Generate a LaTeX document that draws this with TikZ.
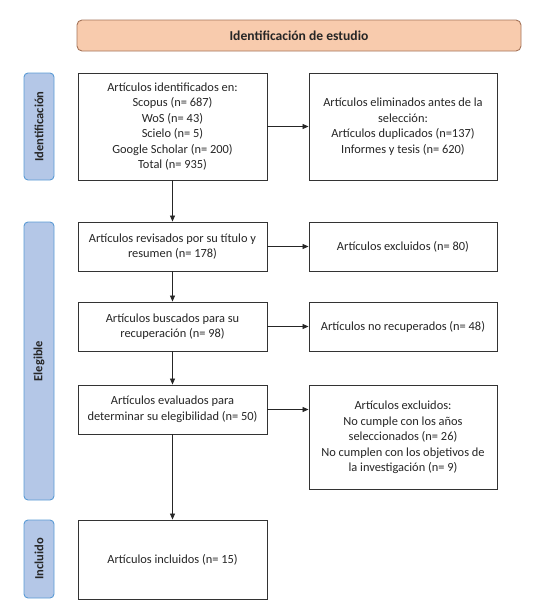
\documentclass[tikz,border=0pt]{standalone}
\usepackage{fontspec}
\setmainfont{Carlito}
\usetikzlibrary{arrows.meta}
\definecolor{peach}{HTML}{F8CBAD}
\definecolor{peachline}{HTML}{A5745A}
\definecolor{sideblue}{HTML}{B4C7E7}
\definecolor{sideline}{HTML}{5B9BD5}
\definecolor{txt}{HTML}{262626}
\begin{document}
\begin{tikzpicture}[x=1pt,y=-1pt,
  box/.style={draw=black!80, line width=0.9pt, fill=white, align=center, inner sep=2pt,
    font=\fontsize{12.4}{15.5}\selectfont, text=txt},
  lbox/.style={box, minimum width=189pt},
  rbox/.style={box, minimum width=188pt},
  side/.style={draw=sideline, line width=0.9pt, fill=sideblue, rounded corners=4pt,
    minimum width=30pt},
  sidetext/.style={rotate=90, font=\fontsize{12.5}{14}\selectfont\bfseries, text=txt},
  title/.style={draw=peachline, line width=0.9pt, fill=peach, rounded corners=5pt,
    minimum width=444pt, minimum height=31pt, font=\fontsize{13.6}{15}\selectfont\bfseries, text=txt},
  arr/.style={-{Triangle[length=6pt,width=5pt]}, line width=0.8pt, draw=black!85}]
\useasboundingbox (0,0) rectangle (547,606);

\node[title] (t) at (299,35.5) {Identificación de estudio};

\node[side, minimum height=107pt] (s1) at (39,126.5) {};
\node[sidetext] (s1t) at (s1.center) {Identificación};
\node[side, minimum height=278pt] (s2) at (39,361) {};
\node[sidetext] (s2t) at (s2.center) {Elegible};
\node[side, minimum height=78pt] (s3) at (39,559) {};
\node[sidetext] (s3t) at (s3.center) {Incluido};

\node[lbox, minimum height=107pt] (a1) at (172.5,126.5) {Artículos identificados en:\\Scopus (n= 687)\\WoS (n= 43)\\Scielo (n= 5)\\Google Scholar (n= 200)\\Total (n= 935)};
\node[lbox, minimum height=49pt] (a2) at (172.5,246.5) {Artículos revisados por su título y\\resumen (n= 178)};
\node[lbox, minimum height=49pt] (a3) at (172.5,326.5) {Artículos buscados para su\\recuperación (n= 98)};
\node[lbox, minimum height=49pt] (a4) at (172.5,409.5) {Artículos evaluados para\\determinar su elegibilidad (n= 50)};
\node[lbox, minimum height=79pt] (a5) at (172.5,559.5) {Artículos incluidos (n= 15)};

\node[rbox, minimum height=107pt] (b1) at (403,126.5) {Artículos eliminados antes de la\\selección:\\Artículos duplicados (n=137)\\Informes y tesis (n= 620)};
\node[rbox, minimum height=49pt] (b2) at (403,246.5) {Artículos excluidos (n= 80)};
\node[rbox, minimum height=49pt] (b3) at (403,326.5) {Artículos no recuperados (n= 48)};
\node[rbox, minimum height=104pt, anchor=north] (b4) at (403,385) {Artículos excluidos:\\No cumple con los años\\seleccionados (n= 26)\\No cumplen con los objetivos de\\la investigación (n= 9)};

\draw[arr] (a1) -- (a2);
\draw[arr] (a2) -- (a3);
\draw[arr] (a3) -- (a4);
\draw[arr] (a4) -- (a5);
\draw[arr] (a1.east) -- (b1.west);
\draw[arr] (a2.east) -- (b2.west);
\draw[arr] (a3.east) -- (b3.west);
\draw[arr] (a4.east) -- (a4.east -| b4.west);
\end{tikzpicture}
\end{document}
